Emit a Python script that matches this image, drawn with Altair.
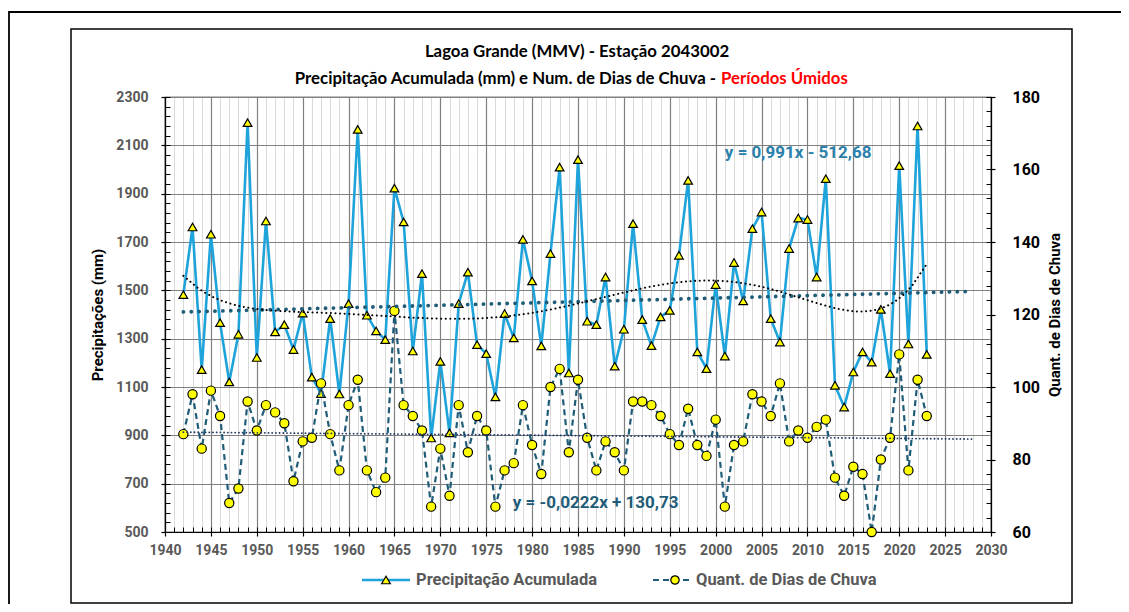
import altair as alt
import pandas as pd

years = list(range(1942, 2024))
precip = [1482, 1762, 1172, 1732, 1366, 1121, 1318, 2194, 1222, 1787,
          1328, 1358, 1255, 1406, 1141, 1073, 1383, 1071, 1445, 2166,
          1397, 1332, 1296, 1923, 1783, 1249, 1569, 889, 1206, 910,
          1445, 1575, 1275, 1238, 1059, 1404, 1303, 1711, 1539, 1270,
          1652, 2010, 1158, 2041, 1372, 1358, 1555, 1186, 1339, 1776,
          1379, 1271, 1390, 1417, 1645, 1955, 1245, 1176, 1524, 1228,
          1615, 1456, 1755, 1824, 1383, 1286, 1673, 1799, 1793, 1555,
          1962, 1107, 1017, 1162, 1245, 1203, 1421, 1155, 2016, 1278,
          2180, 1235]
days = [87, 98, 83, 99, 92, 68, 72, 96, 88, 95,
        93, 90, 74, 85, 86, 101, 87, 77, 95, 102,
        77, 71, 75, 121, 95, 92, 88, 67, 83, 70,
        95, 82, 92, 88, 67, 77, 79, 95, 84, 76,
        100, 105, 82, 102, 86, 77, 85, 82, 77, 96,
        96, 95, 92, 87, 84, 94, 84, 81, 91, 67,
        84, 85, 98, 96, 92, 101, 85, 88, 86, 89,
        91, 75, 70, 78, 76, 60, 80, 86, 109, 77,
        102, 92]

x_ticks = list(range(1940, 2031, 5))
x_minor = list(range(1940, 2031))
p_ticks = list(range(500, 2301, 200))
p_minor = list(range(500, 2301, 40))
d_ticks = list(range(60, 181, 20))
d_minor = list(range(60, 181, 4))

title1 = "Lagoa Grande (MMV) -  Estação 2043002"
title2a = "Precipitação Acumulada (mm) e Num. de Dias de Chuva -"
title2b = "Períodos Úmidos"
legend_labels = ["Precipitação Acumulada", "Quant. de Dias de Chuva"]
eq_p = "y = 0,991x - 512,68"
eq_d = "y = -0,0222x + 130,73"
ytitle_l = "Precipitações (mm)"
ytitle_r = "Quant. de Dias de Chuva"

df = pd.DataFrame({"ano": years, "prec": precip, "dias": days})
one = pd.DataFrame({"k": [0]})

W, H = 826, 435
XS = alt.Scale(domain=[1940, 2030], nice=False, zero=False)
PS = alt.Scale(domain=[500, 2300], nice=False, zero=False)
DS = alt.Scale(domain=[60, 180], nice=False, zero=False)

BLUE = "#1FA3DB"
TEAL = "#1F5C78"
YEL = "#FFFF00"
GRAY_T = "#595959"
FONT = "Roboto"
TFONT = "Lato"


def x_layer(axis):
    return alt.Chart(df).mark_point(opacity=0).encode(
        x=alt.X("ano:Q", scale=XS, axis=axis))


def yp_layer(axis):
    return alt.Chart(df).mark_point(opacity=0).encode(
        y=alt.Y("prec:Q", scale=PS, axis=axis))


def yd_layer(axis):
    return alt.Chart(df).mark_point(opacity=0).encode(
        y=alt.Y("dias:Q", scale=DS, axis=axis))


base_off = dict(title=None, labels=False, domain=False)

ax_x_minor_grid = x_layer(alt.Axis(orient="bottom", values=x_minor, grid=True,
                                   gridColor="#D9D9D9", gridWidth=1, ticks=False, **base_off))
ax_x_major_grid = x_layer(alt.Axis(orient="bottom", values=x_ticks, grid=True,
                                   gridColor="#808080", gridWidth=1.2, ticks=False, **base_off))
ax_y_grid = yp_layer(alt.Axis(orient="left", values=p_ticks, grid=True,
                              gridColor="#808080", gridWidth=1.2, ticks=False, **base_off))
ax_x_minor_ticks = x_layer(alt.Axis(orient="bottom", values=x_minor, grid=False, ticks=True,
                                    tickSize=5, tickColor="black", tickWidth=1, offset=-5, **base_off))
ax_x_main = x_layer(alt.Axis(orient="bottom", values=x_ticks, grid=False, ticks=True,
                             tickSize=4, tickColor="black", tickWidth=1.2, format="d",
                             labelFont=FONT, labelFontSize=14, labelFontWeight="bold",
                             labelColor=GRAY_T, labelPadding=7, labelFlush=False,
                             labelOverlap=False, domain=True, domainColor="black",
                             domainWidth=1.2, title=None))
ax_yp_minor = yp_layer(alt.Axis(orient="left", values=p_minor, grid=False, ticks=True,
                                tickSize=5, tickColor="black", tickWidth=1, offset=-5, **base_off))
ax_yp_main = yp_layer(alt.Axis(orient="left", values=p_ticks, grid=False, ticks=True,
                               tickSize=4, tickColor="black", tickWidth=1.2, format="d",
                               labelFont=FONT, labelFontSize=14, labelFontWeight="bold",
                               labelColor=GRAY_T, labelPadding=13, labelOverlap=False,
                               domain=True, domainColor="black", domainWidth=1.2,
                               title=ytitle_l, titleFont=FONT, titleFontSize=15,
                               titleFontWeight="bold", titleColor="black", titlePadding=10))
ax_yd_minor = yd_layer(alt.Axis(orient="right", values=d_minor, grid=False, ticks=True,
                                tickSize=5, tickColor="black", tickWidth=1, offset=-5, **base_off))
ax_yd_main = yd_layer(alt.Axis(orient="right", values=d_ticks, grid=False, ticks=True,
                               tickSize=4, tickColor="black", tickWidth=1.2, format="d",
                               labelFont=FONT, labelFontSize=16, labelFontWeight="bold",
                               labelColor="black", labelPadding=17, labelOverlap=False,
                               domain=True, domainColor="black", domainWidth=1.2,
                               title=ytitle_r, titleFont=FONT, titleFontSize=15,
                               titleFontWeight="bold", titleColor="black", titlePadding=8,
                               titleAngle=270, titleBaseline="top"))

X = alt.X("ano:Q", scale=XS, axis=None)
YP = alt.Y("prec:Q", scale=PS, axis=None)
YD = alt.Y("dias:Q", scale=DS, axis=None)

precip_line = alt.Chart(df).mark_line(color=BLUE, strokeWidth=2.6).encode(x=X, y=YP)
precip_pts = alt.Chart(df).mark_point(shape="triangle-up", filled=True, fill=YEL,
                                      stroke="black", strokeWidth=1.2, size=75,
                                      opacity=1).encode(x=X, y=YP)
days_line = alt.Chart(df).mark_line(color=TEAL, strokeWidth=2.2,
                                    strokeDash=[6, 4]).encode(x=X, y=YD)
days_pts = alt.Chart(df).mark_point(shape="circle", filled=True, fill=YEL,
                                    stroke="black", strokeWidth=1.2, size=85,
                                    opacity=1).encode(x=X, y=YD)

p_lin = alt.Chart(df).transform_regression("ano", "prec", extent=[1942, 2028]).mark_line(
    color=TEAL, strokeWidth=3.8, strokeDash=[0.1, 7.8], strokeCap="round").encode(x=X, y=YP)

p_poly = alt.Chart(df).transform_regression("ano", "prec", method="poly", order=6).mark_line(
    color="black", strokeWidth=2, strokeDash=[0.1, 4.5], strokeCap="round").encode(x=X, y=YP)

d_lin = alt.Chart(df).transform_regression("ano", "dias", extent=[1942, 2028]).mark_line(
    color="#203864", strokeWidth=1.8, strokeDash=[0.1, 3.6], strokeCap="round").encode(x=X, y=YD)

eq1 = alt.Chart(pd.DataFrame({"t": [eq_p]})).mark_text(
    align="left", baseline="middle", font=FONT, fontSize=17, fontWeight="bold",
    color="#2A80AA").encode(x=alt.X(datum=2001.0, scale=XS, axis=None),
                            y=alt.Y(datum=2067, scale=PS, axis=None), text="t:N")
eq2 = alt.Chart(pd.DataFrame({"t": [eq_d]})).mark_text(
    align="left", baseline="middle", font=FONT, fontSize=17, fontWeight="bold",
    color=TEAL).encode(x=alt.X(datum=1977.9, scale=XS, axis=None),
                       y=alt.Y(datum=619, scale=PS, axis=None), text="t:N")

# titles (pixel positions relative to plot origin)
t1 = alt.Chart(pd.DataFrame({"t": [title1]})).mark_text(
    align="center", baseline="middle", font=TFONT, fontSize=16.8, fontWeight="bold",
    color="black").encode(x=alt.value(412), y=alt.value(-45), text="t:N")
t2a = alt.Chart(pd.DataFrame({"t": [title2a]})).mark_text(
    align="right", baseline="middle", font=TFONT, fontSize=16.8, fontWeight="bold",
    color="black").encode(x=alt.value(551), y=alt.value(-18), text="t:N")
t2b = alt.Chart(pd.DataFrame({"t": [title2b]})).mark_text(
    align="left", baseline="middle", font=TFONT, fontSize=16.8, fontWeight="bold",
    color="#FF0000").encode(x=alt.value(556), y=alt.value(-18), text="t:N")

# legend
LY = 483
leg1_line = alt.Chart(one).mark_rule(color=BLUE, strokeWidth=2.6).encode(
    x=alt.value(197), x2=alt.value(245), y=alt.value(LY))
leg1_pt = alt.Chart(one).mark_point(shape="triangle-up", filled=True, fill=YEL, stroke="black",
                                    strokeWidth=1.2, size=75, opacity=1).encode(
    x=alt.value(221), y=alt.value(LY))
leg2_line = alt.Chart(one).mark_rule(color=TEAL, strokeWidth=2.2, strokeDash=[6, 4]).encode(
    x=alt.value(488), x2=alt.value(528), y=alt.value(LY))
leg2_pt = alt.Chart(one).mark_point(shape="circle", filled=True, fill=YEL, stroke="black",
                                    strokeWidth=1.2, size=70, opacity=1).encode(
    x=alt.value(510), y=alt.value(LY))
leg1_t = alt.Chart(pd.DataFrame({"t": [legend_labels[0]]})).mark_text(
    align="left", baseline="middle", font=FONT, fontSize=16.5, fontWeight="bold",
    color=GRAY_T).encode(x=alt.value(251), y=alt.value(LY), text="t:N")
leg2_t = alt.Chart(pd.DataFrame({"t": [legend_labels[1]]})).mark_text(
    align="left", baseline="middle", font=FONT, fontSize=16.5, fontWeight="bold",
    color=GRAY_T).encode(x=alt.value(531), y=alt.value(LY), text="t:N")

# frames
inner = alt.Chart(one).mark_rect(fillOpacity=0, stroke="black", strokeWidth=1.5).encode(
    x=alt.value(-94), x2=alt.value(907), y=alt.value(-68), y2=alt.value(506))
outer = alt.Chart(one).mark_rect(fillOpacity=0, stroke="black", strokeWidth=1.8).encode(
    x=alt.value(-156), x2=alt.value(1100), y=alt.value(-85), y2=alt.value(700))

chart = alt.layer(
    outer, inner,
    ax_x_minor_grid, ax_x_major_grid, ax_y_grid,
    ax_x_minor_ticks, ax_x_main, ax_yp_minor, ax_yp_main, ax_yd_minor, ax_yd_main,
    precip_line, precip_pts, days_line, days_pts,
    p_lin, p_poly, d_lin,
    eq1, eq2, t1, t2a, t2b,
    leg1_line, leg1_pt, leg2_line, leg2_pt, leg1_t, leg2_t,
).resolve_scale(y="independent").resolve_axis(x="independent", y="independent").properties(
    width=W, height=H,
    padding={"left": 157, "top": 89, "right": 130, "bottom": 72},
    autosize=alt.AutoSizeParams(type="none"),
    background="white",
).configure_view(stroke="black", strokeWidth=1.2)

chart.save("out.html", embed_options={"renderer": "svg", "actions": False})
